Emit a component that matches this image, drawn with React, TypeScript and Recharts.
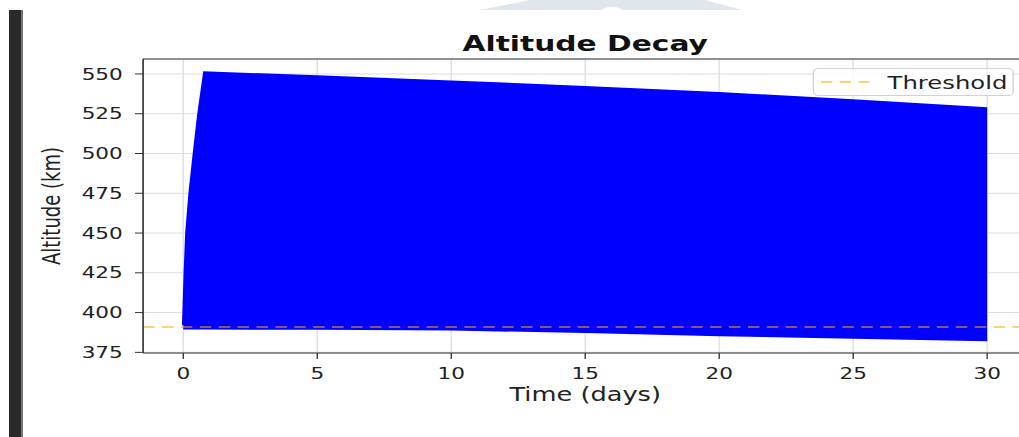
import React from 'react';
import { ComposedChart, Area, XAxis, YAxis, CartesianGrid, ReferenceLine, Legend } from 'recharts';

// the source picture is stretched sideways, so the chart is drawn narrow and scaled on x
const STRETCH = 1.35;
const FONT = '"DejaVu Sans", Verdana, sans-serif';

const timeDays = [0, 0.06, 0.12, 0.24, 0.4, 0.57, 0.79, 5, 10, 15, 20, 25, 30];
const altitudeHigh = [392, 425, 450, 475, 500, 525, 551, 548.5, 545.3, 541.8, 538, 533.5, 528.5];
const altitudeLow = [390, 390, 390, 390, 390, 390, 390, 389.8, 389.3, 387.8, 385.8, 384.2, 382.6];
const thresholdKm = 391;

const xTicks = [0, 5, 10, 15, 20, 25, 30];
const yTicks = [375, 400, 425, 450, 475, 500, 525, 550];
const xDomain = [-1.5, 31.5];
const yDomain = [374.6, 559.4];

const chartTitle = 'Altitude Decay';
const xLabel = 'Time (days)';
const yLabel = 'Altitude (km)';
const legendLabel = 'Threshold';

const data = timeDays.map((t, i) => ({ t, range: [altitudeLow[i], altitudeHigh[i]] }));

const W = 771;
const H = 437;
const TICK = { fontSize: 16, fill: '#222', fontFamily: FONT };

function ThresholdLegend() {
  return (
    <div style={{
      width: 149, height: 28, boxSizing: 'border-box', border: '1px solid #d2d2d2',
      borderRadius: 4, background: 'rgba(255,255,255,0.85)',
    }}>
      <svg width={147} height={26} style={{ display: 'block' }}>
        <line x1={5} x2={41} y1={13} y2={13} stroke="#FFA500" strokeOpacity={0.7}
          strokeWidth={1.5} strokeDasharray="8.5 5.5" />
        <text x={54.5} y={20} fontSize={18} fill="#222" fontFamily={FONT}>{legendLabel}</text>
      </svg>
    </div>
  );
}

export default function App() {
  return (
    <div style={{ position: 'absolute', left: 0, top: 0, width: 1019, height: 437, overflow: 'hidden', background: '#fff' }}>
      <div style={{ position: 'absolute', left: 0, top: 0, width: W, height: H, transform: `scaleX(${STRETCH})`, transformOrigin: '0 0' }}>
        <ComposedChart width={W} height={H} data={data} margin={{ top: 59, right: 10, bottom: 54, left: 46 }}>
          <CartesianGrid stroke="#dedede" strokeWidth={1} />
          <XAxis type="number" dataKey="t" domain={xDomain} ticks={xTicks} allowDataOverflow
            height={30} tick={TICK} tickSize={6} tickMargin={9}
            axisLine={{ stroke: '#333', strokeWidth: 1.2 }} tickLine={{ stroke: '#333' }} />
          <YAxis type="number" domain={yDomain} ticks={yTicks} allowDataOverflow
            width={60} tick={TICK} tickSize={6} tickMargin={9}
            axisLine={{ stroke: '#333', strokeWidth: 1.2 }} tickLine={{ stroke: '#333' }} />
          <Area type="linear" dataKey="range" stroke="#0000FF" strokeWidth={2} fill="#0000FF"
            fillOpacity={1} dot={false} activeDot={false} isAnimationActive={false} />
          <ReferenceLine y={thresholdKm} stroke="#FFA500" strokeOpacity={0.7} strokeWidth={1.5}
            strokeDasharray="8.5 5.5" />
          <ReferenceLine y={yDomain[1]} stroke="#333" strokeWidth={1.2} />
          <Legend layout="vertical" align="center" verticalAlign="middle"
            wrapperStyle={{ left: 601.5, top: 68, width: 149, height: 28 }}
            content={() => <ThresholdLegend />} />
        </ComposedChart>
        <svg width={W} height={H} style={{ position: 'absolute', left: 0, top: 0, pointerEvents: 'none' }}>
          <text x={433.5} y={51} textAnchor="middle" fontSize={22} fontWeight="bold" fill="#111" fontFamily={FONT}>
            {chartTitle}
          </text>
          <text x={433.5} y={401} textAnchor="middle" fontSize={19} fill="#222" fontFamily={FONT}>
            {xLabel}
          </text>
          <text x={44.4} y={206} textAnchor="middle" fontSize={18} fill="#222" fontFamily={FONT}
            transform="rotate(-90, 44.4, 206)">
            {yLabel}
          </text>
        </svg>
      </div>
      {/* page edge and watermark left over in the screenshot */}
      <div style={{ position: 'absolute', left: 9, top: 10, width: 12, height: 427, background: '#2a2a2a' }} />
      <div style={{ position: 'absolute', left: 21, top: 10, width: 2, height: 427, background: '#777' }} />
      <svg width={1019} height={12} style={{ position: 'absolute', left: 0, top: 0 }}>
        <polygon points="480,10 530,0 705,0 742,10" fill="#e1e6ec" />
        <ellipse cx={612} cy={11} rx={11} ry={4} fill="#fff" />
      </svg>
    </div>
  );
}
